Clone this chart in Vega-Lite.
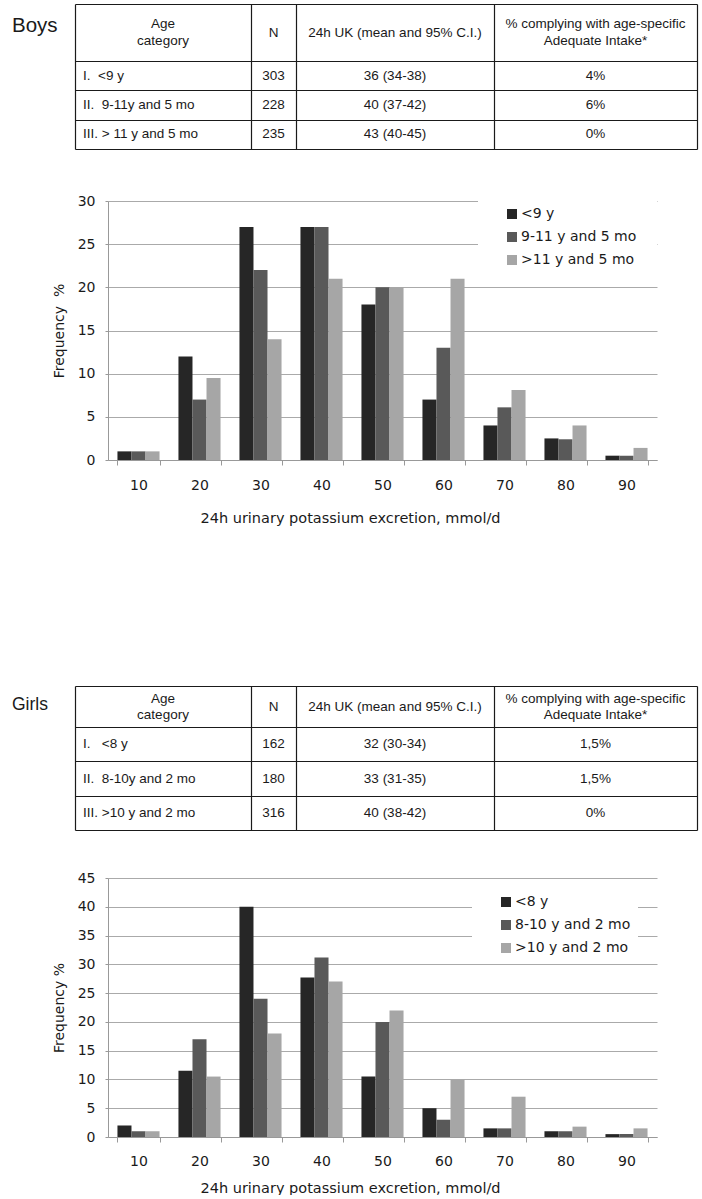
{
  "$schema": "https://vega.github.io/schema/vega-lite/v6.json",
  "padding": {"left": 12, "top": 4, "right": 0, "bottom": 0},
  "autosize": {"type": "pad"},
  "background": "white",
  "bounds": "flush",
  "spacing": 0,
  "config": {
    "view": {"stroke": null},
    "font": "DejaVu Sans",
    "axis": {"titleFontWeight": "normal"}
  },
  "datasets": {
    "boysTable": [
      {"row": 0, "col": -1, "text": "Boys"},
      {"row": 0, "col": 0, "text": "Age\ncategory"},
      {"row": 0, "col": 1, "text": "N"},
      {"row": 0, "col": 2, "text": "24h UK (mean and 95% C.I.)"},
      {"row": 0, "col": 3, "text": "% complying with age-specific\nAdequate Intake*"},
      {"row": 1, "col": 0, "text": "I.\u00a0 <9 y"},
      {"row": 1, "col": 1, "text": "303"},
      {"row": 1, "col": 2, "text": "36 (34-38)"},
      {"row": 1, "col": 3, "text": "4%"},
      {"row": 2, "col": 0, "text": "II.\u00a0 9-11y and 5 mo"},
      {"row": 2, "col": 1, "text": "228"},
      {"row": 2, "col": 2, "text": "40 (37-42)"},
      {"row": 2, "col": 3, "text": "6%"},
      {"row": 3, "col": 0, "text": "III. > 11 y and 5 mo"},
      {"row": 3, "col": 1, "text": "235"},
      {"row": 3, "col": 2, "text": "43 (40-45)"},
      {"row": 3, "col": 3, "text": "0%"}
    ],
    "girlsTable": [
      {"row": 0, "col": -1, "text": "Girls"},
      {"row": 0, "col": 0, "text": "Age\ncategory"},
      {"row": 0, "col": 1, "text": "N"},
      {"row": 0, "col": 2, "text": "24h UK (mean and 95% C.I.)"},
      {"row": 0, "col": 3, "text": "% complying with age-specific\nAdequate Intake*"},
      {"row": 1, "col": 0, "text": "I.\u00a0\u00a0 <8 y"},
      {"row": 1, "col": 1, "text": "162"},
      {"row": 1, "col": 2, "text": "32 (30-34)"},
      {"row": 1, "col": 3, "text": "1,5%"},
      {"row": 2, "col": 0, "text": "II.\u00a0 8-10y and 2 mo"},
      {"row": 2, "col": 1, "text": "180"},
      {"row": 2, "col": 2, "text": "33 (31-35)"},
      {"row": 2, "col": 3, "text": "1,5%"},
      {"row": 3, "col": 0, "text": "III. >10 y and 2 mo"},
      {"row": 3, "col": 1, "text": "316"},
      {"row": 3, "col": 2, "text": "40 (38-42)"},
      {"row": 3, "col": 3, "text": "0%"}
    ],
    "boysBars": [
      {"bin": 10, "group": "<9 y", "freq": 1},
      {"bin": 10, "group": "9-11 y and 5 mo", "freq": 1},
      {"bin": 10, "group": ">11 y and 5 mo", "freq": 1},
      {"bin": 20, "group": "<9 y", "freq": 12},
      {"bin": 20, "group": "9-11 y and 5 mo", "freq": 7},
      {"bin": 20, "group": ">11 y and 5 mo", "freq": 9.5},
      {"bin": 30, "group": "<9 y", "freq": 27},
      {"bin": 30, "group": "9-11 y and 5 mo", "freq": 22},
      {"bin": 30, "group": ">11 y and 5 mo", "freq": 14},
      {"bin": 40, "group": "<9 y", "freq": 27},
      {"bin": 40, "group": "9-11 y and 5 mo", "freq": 27},
      {"bin": 40, "group": ">11 y and 5 mo", "freq": 21},
      {"bin": 50, "group": "<9 y", "freq": 18},
      {"bin": 50, "group": "9-11 y and 5 mo", "freq": 20},
      {"bin": 50, "group": ">11 y and 5 mo", "freq": 20},
      {"bin": 60, "group": "<9 y", "freq": 7},
      {"bin": 60, "group": "9-11 y and 5 mo", "freq": 13},
      {"bin": 60, "group": ">11 y and 5 mo", "freq": 21},
      {"bin": 70, "group": "<9 y", "freq": 4},
      {"bin": 70, "group": "9-11 y and 5 mo", "freq": 6.1},
      {"bin": 70, "group": ">11 y and 5 mo", "freq": 8.1},
      {"bin": 80, "group": "<9 y", "freq": 2.5},
      {"bin": 80, "group": "9-11 y and 5 mo", "freq": 2.4},
      {"bin": 80, "group": ">11 y and 5 mo", "freq": 4},
      {"bin": 90, "group": "<9 y", "freq": 0.5},
      {"bin": 90, "group": "9-11 y and 5 mo", "freq": 0.5},
      {"bin": 90, "group": ">11 y and 5 mo", "freq": 1.4}
    ],
    "girlsBars": [
      {"bin": 10, "group": "<8 y", "freq": 2},
      {"bin": 10, "group": "8-10 y and 2 mo", "freq": 1},
      {"bin": 10, "group": ">10 y and 2 mo", "freq": 1},
      {"bin": 20, "group": "<8 y", "freq": 11.5},
      {"bin": 20, "group": "8-10 y and 2 mo", "freq": 17},
      {"bin": 20, "group": ">10 y and 2 mo", "freq": 10.5},
      {"bin": 30, "group": "<8 y", "freq": 40},
      {"bin": 30, "group": "8-10 y and 2 mo", "freq": 24},
      {"bin": 30, "group": ">10 y and 2 mo", "freq": 18},
      {"bin": 40, "group": "<8 y", "freq": 27.7},
      {"bin": 40, "group": "8-10 y and 2 mo", "freq": 31.2},
      {"bin": 40, "group": ">10 y and 2 mo", "freq": 27},
      {"bin": 50, "group": "<8 y", "freq": 10.5},
      {"bin": 50, "group": "8-10 y and 2 mo", "freq": 20},
      {"bin": 50, "group": ">10 y and 2 mo", "freq": 22},
      {"bin": 60, "group": "<8 y", "freq": 5},
      {"bin": 60, "group": "8-10 y and 2 mo", "freq": 3},
      {"bin": 60, "group": ">10 y and 2 mo", "freq": 10},
      {"bin": 70, "group": "<8 y", "freq": 1.5},
      {"bin": 70, "group": "8-10 y and 2 mo", "freq": 1.5},
      {"bin": 70, "group": ">10 y and 2 mo", "freq": 7},
      {"bin": 80, "group": "<8 y", "freq": 1},
      {"bin": 80, "group": "8-10 y and 2 mo", "freq": 1},
      {"bin": 80, "group": ">10 y and 2 mo", "freq": 1.8},
      {"bin": 90, "group": "<8 y", "freq": 0.5},
      {"bin": 90, "group": "8-10 y and 2 mo", "freq": 0.5},
      {"bin": 90, "group": ">10 y and 2 mo", "freq": 1.5}
    ]
  },
  "vconcat": [
    {
      "width": 549,
      "height": 197,
      "data": {"name": "boysTable"},
      "encoding": {
        "x": {
          "field": "col", "type": "quantitative",
          "scale": {"domain": [-0.5, 0, 0.5, 1, 1.5, 2, 2.5, 3, 3.5], "range": [-33, 55, 143, 165.5, 188, 287, 386, 487.5, 589], "zero": false, "nice": false},
          "axis": {"orient": "top", "values": [-0.5, 0.5, 1.5, 2.5, 3.5], "grid": true, "gridColor": "#1a1a1a", "gridOpacity": 1, "gridWidth": 1.2, "labels": false, "ticks": false, "domain": false, "title": null}
        },
        "y": {
          "field": "row", "type": "quantitative",
          "scale": {"domain": [-0.5, 0, 0.5, 1, 1.5, 2, 2.5, 3, 3.5], "range": [0, 28.5, 57, 71.5, 86, 100.75, 115.5, 130.25, 145], "zero": false, "nice": false},
          "axis": {"values": [-0.5, 0.5, 1.5, 2.5, 3.5], "grid": true, "gridColor": "#1a1a1a", "gridOpacity": 1, "gridWidth": 1.2, "labels": false, "ticks": false, "domain": false, "title": null}
        },
        "text": {"field": "text"}
      },
      "layer": [
        {
          "transform": [{"filter": "datum.row == 0 && (datum.col == 0 || datum.col == 3)"}],
          "mark": {"type": "text", "font": "Liberation Sans", "fontSize": 13.5, "align": "center", "baseline": "middle", "lineBreak": "\n", "lineHeight": 17, "dy": -8.5, "color": "#1a1a1a"}
        },
        {
          "transform": [{"filter": "(datum.row == 0 && (datum.col == 1 || datum.col == 2)) || (datum.row > 0 && datum.col > 0)"}],
          "mark": {"type": "text", "font": "Liberation Sans", "fontSize": 13.5, "align": "center", "baseline": "middle", "color": "#1a1a1a"}
        },
        {
          "transform": [{"filter": "datum.col == 0 && datum.row > 0"}],
          "mark": {"type": "text", "font": "Liberation Sans", "fontSize": 13.5, "align": "left", "baseline": "middle", "dx": -80, "color": "#1a1a1a"}
        },
        {
          "transform": [{"filter": "datum.col < 0"}],
          "mark": {"type": "text", "font": "Liberation Sans", "fontSize": 20.5, "align": "left", "baseline": "middle", "dx": 25, "dy": -7, "color": "#1a1a1a"}
        }
      ]
    },
    {
      "width": 549,
      "height": 259,
      "data": {"name": "boysBars"},
      "mark": {"type": "bar"},
      "encoding": {
        "x": {
          "field": "bin", "type": "ordinal",
          "scale": {"paddingInner": 0.31, "paddingOuter": 0.155},
          "axis": {"labelAngle": 0, "tickBand": "extent", "tickSize": 5, "tickColor": "#999999", "domainColor": "#999999", "labelPadding": 13, "labelFontSize": 14, "labelColor": "#1a1a1a", "title": "24h urinary potassium excretion, mmol/d", "titleFontSize": 14.5, "titleColor": "#1a1a1a", "titlePadding": 19, "titleX": 242, "titleAlign": "center"}
        },
        "xOffset": {"field": "group", "type": "nominal", "sort": ["<9 y", "9-11 y and 5 mo", ">11 y and 5 mo"], "scale": {"paddingInner": 0, "paddingOuter": 0}},
        "y": {
          "field": "freq", "type": "quantitative",
          "scale": {"domain": [0, 30], "nice": false},
          "axis": {"values": [0, 5, 10, 15, 20, 25, 30], "grid": true, "gridColor": "#aaaaaa", "tickSize": 3, "tickColor": "#999999", "domainColor": "#999999", "labelPadding": 10, "labelFontSize": 14, "labelColor": "#1a1a1a", "title": "Frequency\u00a0 %", "titleFontSize": 14, "titleColor": "#1a1a1a", "titlePadding": 11}
        },
        "color": {
          "field": "group", "type": "nominal",
          "scale": {"domain": ["<9 y", "9-11 y and 5 mo", ">11 y and 5 mo"], "range": ["#262626", "#595959", "#a6a6a6"]},
          "legend": {"orient": "none", "legendX": 370, "legendY": -14, "fillColor": "white", "padding": 20, "title": null, "symbolType": "square", "symbolSize": 100, "symbolStrokeWidth": 0, "symbolOffset": 7, "labelOffset": 2, "labelFont": "DejaVu Sans", "labelFontSize": 14, "labelColor": "#1a1a1a", "rowPadding": 9, "labelLimit": 300}
        }
      }
    },
    {
      "width": 549,
      "height": 418,
      "data": {"name": "girlsTable"},
      "encoding": {
        "x": {
          "field": "col", "type": "quantitative",
          "scale": {"domain": [-0.5, 0, 0.5, 1, 1.5, 2, 2.5, 3, 3.5], "range": [-33, 55, 143, 165.5, 188, 287, 386, 487.5, 589], "zero": false, "nice": false},
          "axis": {"orient": "top", "values": [-0.5, 0.5, 1.5, 2.5, 3.5], "grid": true, "gridColor": "#1a1a1a", "gridOpacity": 1, "gridWidth": 1.2, "labels": false, "ticks": false, "domain": false, "title": null}
        },
        "y": {
          "field": "row", "type": "quantitative",
          "scale": {"domain": [-0.5, 0, 0.5, 1, 1.5, 2, 2.5, 3, 3.5], "range": [226, 246.5, 267, 284, 301, 318.5, 336, 353, 370], "zero": false, "nice": false},
          "axis": {"values": [-0.5, 0.5, 1.5, 2.5, 3.5], "grid": true, "gridColor": "#1a1a1a", "gridOpacity": 1, "gridWidth": 1.2, "labels": false, "ticks": false, "domain": false, "title": null}
        },
        "text": {"field": "text"}
      },
      "layer": [
        {
          "transform": [{"filter": "datum.row == 0 && (datum.col == 0 || datum.col == 3)"}],
          "mark": {"type": "text", "font": "Liberation Sans", "fontSize": 13.5, "align": "center", "baseline": "middle", "lineBreak": "\n", "lineHeight": 16, "dy": -8, "color": "#1a1a1a"}
        },
        {
          "transform": [{"filter": "(datum.row == 0 && (datum.col == 1 || datum.col == 2)) || (datum.row > 0 && datum.col > 0)"}],
          "mark": {"type": "text", "font": "Liberation Sans", "fontSize": 13.5, "align": "center", "baseline": "middle", "color": "#1a1a1a"}
        },
        {
          "transform": [{"filter": "datum.col == 0 && datum.row > 0"}],
          "mark": {"type": "text", "font": "Liberation Sans", "fontSize": 13.5, "align": "left", "baseline": "middle", "dx": -80, "color": "#1a1a1a"}
        },
        {
          "transform": [{"filter": "datum.col < 0"}],
          "mark": {"type": "text", "font": "Liberation Sans", "fontSize": 17.5, "align": "left", "baseline": "middle", "dx": 25, "dy": -1.5, "color": "#1a1a1a"}
        }
      ]
    },
    {
      "width": 549,
      "height": 259,
      "data": {"name": "girlsBars"},
      "mark": {"type": "bar"},
      "encoding": {
        "x": {
          "field": "bin", "type": "ordinal",
          "scale": {"paddingInner": 0.31, "paddingOuter": 0.155},
          "axis": {"labelAngle": 0, "tickBand": "extent", "tickSize": 5, "tickColor": "#999999", "domainColor": "#999999", "labelPadding": 12, "labelFontSize": 14, "labelColor": "#1a1a1a", "title": "24h urinary potassium excretion, mmol/d", "titleFontSize": 14.5, "titleColor": "#1a1a1a", "titlePadding": 13, "titleX": 242, "titleAlign": "center"}
        },
        "xOffset": {"field": "group", "type": "nominal", "sort": ["<8 y", "8-10 y and 2 mo", ">10 y and 2 mo"], "scale": {"paddingInner": 0, "paddingOuter": 0}},
        "y": {
          "field": "freq", "type": "quantitative",
          "scale": {"domain": [0, 45], "nice": false},
          "axis": {"values": [0, 5, 10, 15, 20, 25, 30, 35, 40, 45], "grid": true, "gridColor": "#aaaaaa", "tickSize": 3, "tickColor": "#999999", "domainColor": "#999999", "labelPadding": 10, "labelFontSize": 14, "labelColor": "#1a1a1a", "title": "Frequency %", "titleFontSize": 14, "titleColor": "#1a1a1a", "titlePadding": 11}
        },
        "color": {
          "field": "group", "type": "nominal",
          "scale": {"domain": ["<8 y", "8-10 y and 2 mo", ">10 y and 2 mo"], "range": ["#262626", "#595959", "#a6a6a6"]},
          "legend": {"orient": "none", "legendX": 364, "legendY": 10, "fillColor": "white", "padding": 7, "title": null, "symbolType": "square", "symbolSize": 100, "symbolStrokeWidth": 0, "symbolOffset": 20, "labelOffset": 2, "labelFont": "DejaVu Sans", "labelFontSize": 14, "labelColor": "#1a1a1a", "rowPadding": 9, "labelLimit": 300}
        }
      }
    }
  ],
  "resolve": {
    "scale": {"x": "independent", "y": "independent", "color": "independent", "xOffset": "independent"},
    "legend": {"color": "independent"},
    "axis": {"x": "independent", "y": "independent"}
  }
}
